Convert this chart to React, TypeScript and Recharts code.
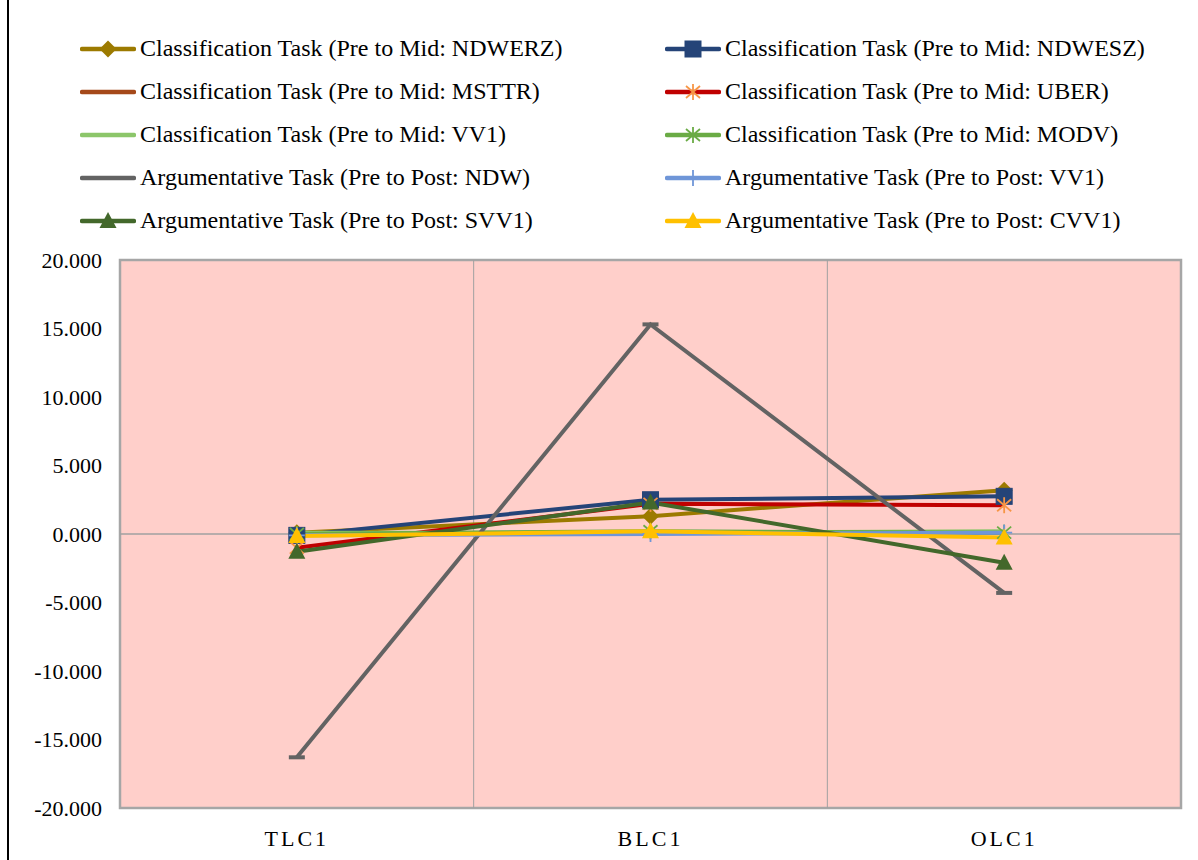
import React from 'react';
import { LineChart, Line, XAxis, YAxis, ReferenceArea, ReferenceLine } from 'recharts';

const categories = ['TLC1', 'BLC1', 'OLC1'];
const yTicks = [-20, -15, -10, -5, 0, 5, 10, 15, 20];

const ndwerz = [0.1, 1.3, 3.2];
const ndwesz = [-0.1, 2.5, 2.75];
const msttr = [0.0, 0.1, 0.1];
const uber = [-1.0, 2.2, 2.1];
const vv1Class = [0.1, 0.1, 0.2];
const modv = [0.0, 0.2, 0.1];
const ndw = [-16.3, 15.3, -4.3];
const vv1Arg = [-0.1, 0.0, 0.1];
const svv1 = [-1.3, 2.3, -2.1];
const cvv1 = [-0.15, 0.2, -0.25];

type MarkerKind = 'none' | 'diamond' | 'square' | 'asterisk' | 'dash' | 'plus' | 'triangle';

interface SeriesDef {
  key: string;
  name: string;
  values: number[];
  color: string;
  marker: MarkerKind;
  markerColor: string;
}

const series: SeriesDef[] = [
  { key: 'ndwerz', name: 'Classification Task (Pre to Mid: NDWERZ)', values: ndwerz, color: '#9C7A00', marker: 'diamond', markerColor: '#9C7A00' },
  { key: 'ndwesz', name: 'Classification Task (Pre to Mid: NDWESZ)', values: ndwesz, color: '#254478', marker: 'square', markerColor: '#254478' },
  { key: 'msttr', name: 'Classification Task (Pre to Mid: MSTTR)', values: msttr, color: '#A5491A', marker: 'none', markerColor: '#A5491A' },
  { key: 'uber', name: 'Classification Task (Pre to Mid: UBER)', values: uber, color: '#C00000', marker: 'asterisk', markerColor: '#F79646' },
  { key: 'vv1c', name: 'Classification Task (Pre to Mid: VV1)', values: vv1Class, color: '#8CC66A', marker: 'none', markerColor: '#8CC66A' },
  { key: 'modv', name: 'Classification Task (Pre to Mid: MODV)', values: modv, color: '#6AAB45', marker: 'asterisk', markerColor: '#6AAB45' },
  { key: 'ndw', name: 'Argumentative Task (Pre to Post: NDW)', values: ndw, color: '#636363', marker: 'dash', markerColor: '#636363' },
  { key: 'vv1a', name: 'Argumentative Task (Pre to Post: VV1)', values: vv1Arg, color: '#6F96D8', marker: 'plus', markerColor: '#6F96D8' },
  { key: 'svv1', name: 'Argumentative Task (Pre to Post: SVV1)', values: svv1, color: '#43682B', marker: 'triangle', markerColor: '#43682B' },
  { key: 'cvv1', name: 'Argumentative Task (Pre to Post: CVV1)', values: cvv1, color: '#FFC000', marker: 'triangle', markerColor: '#FFC000' },
];

const data = categories.map((cat, i) => {
  const row: Record<string, number | string> = { x: i, cat };
  series.forEach((s) => {
    row[s.key] = s.values[i];
  });
  return row;
});

const font = 'Tinos, "Liberation Serif", "Times New Roman", "DejaVu Serif", serif';

const Marker = ({ kind, color, cx, cy }: { kind: MarkerKind; color: string; cx: number; cy: number }) => {
  switch (kind) {
    case 'diamond':
      return <polygon points={`${cx},${cy - 8.5} ${cx + 8.5},${cy} ${cx},${cy + 8.5} ${cx - 8.5},${cy}`} fill={color} />;
    case 'square':
      return <rect x={cx - 8} y={cy - 8} width={16} height={16} fill={color} stroke={color} />;
    case 'asterisk':
      return (
        <g stroke={color} strokeWidth={1.8}>
          <line x1={cx} y1={cy - 8} x2={cx} y2={cy + 8} />
          <line x1={cx - 7} y1={cy - 6} x2={cx + 7} y2={cy + 6} />
          <line x1={cx - 7} y1={cy + 6} x2={cx + 7} y2={cy - 6} />
        </g>
      );
    case 'dash':
      return <rect x={cx - 8} y={cy - 2} width={16} height={4} fill={color} />;
    case 'plus':
      return (
        <g stroke={color} strokeWidth={1.8}>
          <line x1={cx} y1={cy - 8} x2={cx} y2={cy + 8} />
          <line x1={cx - 8} y1={cy} x2={cx + 8} y2={cy} />
        </g>
      );
    case 'triangle':
      return <polygon points={`${cx},${cy - 9} ${cx + 8.5},${cy + 7} ${cx - 8.5},${cy + 7}`} fill={color} />;
    default:
      return null;
  }
};

const LegendItem = ({ s }: { s: SeriesDef }) => (
  <div style={{ display: 'flex', alignItems: 'center', height: 43 }}>
    <svg width={56} height={20} style={{ marginRight: 4 }}>
      <line x1={2} y1={10} x2={54} y2={10} stroke={s.color} strokeWidth={4.5} strokeLinecap="round" />
      <Marker kind={s.marker} color={s.markerColor} cx={28} cy={10} />
    </svg>
    <span style={{ fontFamily: font, fontSize: 24, color: '#000', whiteSpace: 'nowrap' }}>{s.name}</span>
  </div>
);

const App: React.FC = () => {
  const left = series.filter((_, i) => i % 2 === 0);
  const right = series.filter((_, i) => i % 2 === 1);
  return (
    <div style={{ position: 'absolute', left: 0, top: 0, width: 1198, height: 860, background: '#fff', overflow: 'hidden' }}>
      <div style={{ position: 'absolute', left: 7, top: 0, width: 2, height: 860, background: '#000' }} />
      <div style={{ position: 'absolute', left: 80, top: 27 }}>
        {left.map((s) => <LegendItem key={s.key} s={s} />)}
      </div>
      <div style={{ position: 'absolute', left: 665, top: 27 }}>
        {right.map((s) => <LegendItem key={s.key} s={s} />)}
      </div>
      <LineChart width={1198} height={860} data={data} margin={{ top: 260, right: 17, bottom: 12, left: 20 }}>
        <XAxis
          type="number"
          dataKey="x"
          domain={[-0.5, 2.5]}
          ticks={[0, 1, 2]}
          tickFormatter={(v: number) => categories[v]}
          axisLine={false}
          tickLine={false}
          tickSize={0}
          tickMargin={22}
          height={40}
          tick={{ fill: '#000', fontFamily: font, fontSize: 22, letterSpacing: 3 }}
        />
        <YAxis
          domain={[-20, 20]}
          ticks={yTicks}
          tickFormatter={(v: number) => v.toFixed(3)}
          axisLine={false}
          tickLine={false}
          tickSize={0}
          tickMargin={18}
          width={100}
          interval={0}
          tick={{ fill: '#000', fontFamily: font, fontSize: 22 }}
        />
        <ReferenceArea x1={-0.5} x2={2.5} y1={-20} y2={20} fill="#FFCFCA" fillOpacity={1} stroke="#A6A6A6" strokeWidth={2.5} />
        <ReferenceLine x={0.5} stroke="#A0A0A0" strokeWidth={1} />
        <ReferenceLine x={1.5} stroke="#A0A0A0" strokeWidth={1} />
        <ReferenceLine y={0} stroke="#A0A0A0" strokeWidth={1.5} />
        {series.map((s) => (
          <Line
            key={s.key}
            dataKey={s.key}
            name={s.name}
            type="linear"
            stroke={s.color}
            strokeWidth={4}
            isAnimationActive={false}
            activeDot={false}
            dot={(p: any) => (
              <Marker key={`${s.key}-${p.index}`} kind={s.marker} color={s.markerColor} cx={p.cx} cy={p.cy} />
            )}
          />
        ))}
      </LineChart>
    </div>
  );
};

export default App;
